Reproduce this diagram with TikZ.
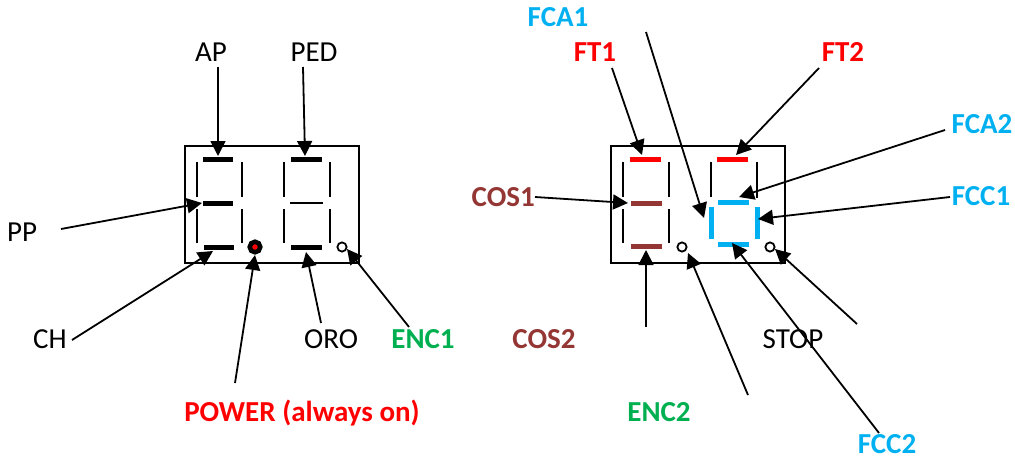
\documentclass[tikz,border=0pt]{standalone}
\usepackage{fontspec}
\setmainfont{Carlito}
\usetikzlibrary{arrows.meta}
\definecolor{fred}{HTML}{FF0000}
\definecolor{fblue}{HTML}{00B0F0}
\definecolor{fgreen}{HTML}{00B050}
\definecolor{fbrown}{HTML}{943634}
\begin{document}
\begin{tikzpicture}[x=1pt,y=-1pt,
 lbl/.style={font=\fontsize{29}{31}\selectfont, inner sep=0pt, anchor=base},
 blbl/.style={font=\fontsize{29}{31}\selectfont\bfseries, inner sep=0pt, anchor=base},
 arr/.style={-{Triangle[length=15pt,width=15pt]}, line width=1.8pt},
 thickseg/.style={line width=5pt},
 thinseg/.style={line width=2pt},
 midthin/.style={line width=1.4pt},
 dispbox/.style={draw, line width=1.6pt},
 dotopen/.style={draw, line width=1.8pt, fill=white}
]
\useasboundingbox (0,0) rectangle (1015,460);

% ---------- left display ----------
\draw[dispbox] (185,146) rectangle (359,263);
% digit 1
\draw[thickseg] (203,159) -- (233,159);
\draw[thickseg] (203,203) -- (233,203);
\draw[thickseg] (204,247) -- (234,247);
\draw[thinseg] (197,162) -- (197,197);
\draw[thinseg] (197,209) -- (197,243);
\draw[thinseg] (242,162) -- (242,197);
\draw[thinseg] (242,209) -- (242,243);
% digit 2
\draw[thickseg] (291,159) -- (322,159);
\draw[midthin] (290,203) -- (323,203);
\draw[thickseg] (291,247) -- (322,247);
\draw[thinseg] (284,162) -- (284,197);
\draw[thinseg] (284,209) -- (284,243);
\draw[thinseg] (330,162) -- (330,197);
\draw[thinseg] (330,209) -- (330,243);
% dots
\filldraw[fill=fred, draw=black, line width=4.5pt] (255,247) circle (5.3pt);
\draw[dotopen] (342,247) circle (4.6pt);

% labels left
\node[lbl] (ap) at (211,62) {AP};
\node[lbl] (ped) at (314,62) {PED};
\node[lbl] (pp) at (22,241) {PP};
\node[lbl] (ch) at (50,348) {CH};
\node[lbl] (oro) at (331,348) {ORO};
\node[blbl, text=fgreen] (enc1) at (423,348) {ENC1};
\node[blbl, text=fred] (power) at (302,421) {POWER (always on)};

% connector coordinates left
\coordinate (apS) at (218,67);   \coordinate (apT) at (218,156);
\coordinate (pedS) at (303,67);  \coordinate (pedT) at (305,156);
\coordinate (ppS) at (61,229);   \coordinate (ppT) at (202,203);
\coordinate (chS) at (72,340);   \coordinate (chT) at (213,251);
\coordinate (powS) at (235,383); \coordinate (powT) at (255,255);
\coordinate (oroS) at (321,323); \coordinate (oroT) at (306,252);
\coordinate (enc1S) at (409,327);\coordinate (enc1T) at (347,249);

\draw[arr] (apS) -- (apT);
\draw[arr] (pedS) -- (pedT);
\draw[arr] (ppS) -- (ppT);
\draw[arr] (chS) -- (chT);
\draw[arr] (powS) -- (powT);
\draw[arr] (oroS) -- (oroT);
\draw[arr] (enc1S) -- (enc1T);

% ---------- right display ----------
\draw[dispbox] (611,146) rectangle (785,263);
% digit 3
\draw[thickseg, fred] (630,159) -- (661,159);
\draw[thickseg, fbrown] (631,203) -- (662,203);
\draw[thickseg, fbrown] (631,246) -- (662,246);
\draw[thinseg] (623,162) -- (623,197);
\draw[thinseg] (623,209) -- (623,243);
\draw[thinseg] (669,162) -- (669,197);
\draw[thinseg] (669,209) -- (669,243);
% digit 4
\draw[thickseg, fred] (717,159) -- (748,159);
\draw[thinseg] (711,162) -- (711,197);
\draw[thinseg] (757,162) -- (757,198);
\draw[thickseg, fblue] (718,202) -- (749,202);
\draw[thickseg, fblue] (711,207) -- (711,239);
\draw[thickseg, fblue] (757,207) -- (757,239);
\draw[thickseg, fblue] (718,244) -- (749,244);
% dots
\draw[dotopen] (682,247) circle (4.6pt);
\draw[dotopen] (770,247) circle (4.6pt);

% labels right
\node[blbl, text=fblue] (fca1) at (558,27) {FCA1};
\node[blbl, text=fred] (ft1) at (595,62) {FT1};
\node[blbl, text=fred] (ft2) at (843,62) {FT2};
\node[blbl, text=fblue] (fca2) at (982,133) {FCA2};
\node[blbl, text=fbrown, anchor=base east] (cos1) at (535,206) {COS1};
\node[blbl, text=fblue] (fcc1) at (981,205) {FCC1};
\node[blbl, text=fbrown] (cos2) at (544,348) {COS2};
\node[lbl] (stop) at (793,348) {STOP};
\node[blbl, text=fgreen] (enc2) at (659,421) {ENC2};
\node[blbl, text=fblue] (fcc2) at (887,453) {FCC2};

% connector coordinates right
\coordinate (ft1S) at (612,68);   \coordinate (ft1T) at (642,155);
\coordinate (fca1S) at (646,32);  \coordinate (fca1T) at (704,218);
\coordinate (ft2S) at (819,68);   \coordinate (ft2T) at (736,155);
\coordinate (fca2S) at (945,130); \coordinate (fca2T) at (739,197);
\coordinate (fcc1S) at (950,197); \coordinate (fcc1T) at (758,219);
\coordinate (cos1S) at (535,197); \coordinate (cos1T) at (628,203);
\coordinate (cos2S) at (646,327); \coordinate (cos2T) at (646,250);
\coordinate (enc2S) at (748,395); \coordinate (enc2T) at (688,253);
\coordinate (stopS) at (857,324); \coordinate (stopT) at (775,249);
\coordinate (fcc2S) at (879,433); \coordinate (fcc2T) at (732,243);

\draw[arr] (ft1S) -- (ft1T);
\draw[arr] (fca1S) -- (fca1T);
\draw[arr] (ft2S) -- (ft2T);
\draw[arr] (fca2S) -- (fca2T);
\draw[arr] (fcc1S) -- (fcc1T);
\draw[arr] (cos1S) -- (cos1T);
\draw[arr] (cos2S) -- (cos2T);
\draw[arr] (enc2S) -- (enc2T);
\draw[arr] (stopS) -- (stopT);
\draw[arr] (fcc2S) -- (fcc2T);
\end{tikzpicture}
\end{document}
